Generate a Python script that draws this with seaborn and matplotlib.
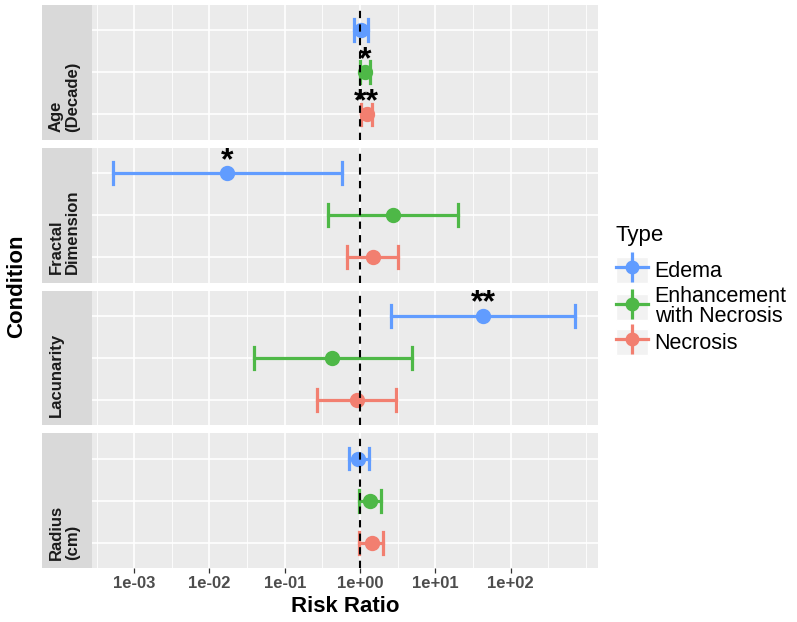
import numpy as np
import pandas as pd
import matplotlib
matplotlib.use("Agg")
import matplotlib.pyplot as plt
import seaborn as sns
from matplotlib.lines import Line2D
from matplotlib.patches import Patch, Rectangle
from matplotlib.ticker import FixedLocator, FuncFormatter, NullFormatter

plt.rcParams["font.family"] = ["Liberation Sans", "DejaVu Sans"]

# ---------------- data ----------------
conditions = ["Age (Decade)", "Fractal Dimension", "Lacunarity", "Radius (cm)"]
strip_labels = ["Age\n(Decade)", "Fractal\nDimension", "Lacunarity", "Radius\n(cm)"]
types = ["Edema", "Enhancement with Necrosis", "Necrosis"]
type_labels = ["Edema", "Enhancement\nwith Necrosis", "Necrosis"]
colors = ["#619CFF", "#4EB847", "#F27F70"]

# risk ratio estimates and 95% CI bounds, ordered as in `types`
age_est = [1.02, 1.18, 1.23]
age_lo = [0.84, 1.01, 1.04]
age_hi = [1.26, 1.37, 1.45]
age_sig = ["", "*", "**"]

fractal_est = [0.017, 2.7, 1.47]
fractal_lo = [5.2e-4, 0.37, 0.68]
fractal_hi = [0.58, 20.0, 3.16]
fractal_sig = ["*", "", ""]

lac_est = [43.0, 0.43, 0.90]
lac_lo = [2.6, 0.039, 0.27]
lac_hi = [720.0, 4.9, 3.0]
lac_sig = ["**", "", ""]

rad_est = [0.95, 1.36, 1.42]
rad_lo = [0.71, 0.97, 0.97]
rad_hi = [1.30, 1.91, 2.02]
rad_sig = ["", "", ""]

major_ticks = [1e-3, 1e-2, 1e-1, 1e0, 1e1, 1e2]

ests = [age_est, fractal_est, lac_est, rad_est]
los = [age_lo, fractal_lo, lac_lo, rad_lo]
his = [age_hi, fractal_hi, lac_hi, rad_hi]
sigs = [age_sig, fractal_sig, lac_sig, rad_sig]

rows = []
for cond, e, l, h in zip(conditions, ests, los, his):
    for t, ev, lv, hv in zip(types, e, l, h):
        for v in (lv, ev, hv):
            rows.append({"Condition": cond, "Type": t, "RR": v})
df = pd.DataFrame(rows)

# ---------------- layout ----------------
W, H = 797, 622
fig = plt.figure(figsize=(W / 100, H / 100), dpi=100)
top, bottom, gap = 5, 568, 8
ph = (bottom - top - 3 * gap) / 4
left, right = 92, 598
xmin, xmax = 10 ** -3.56, 10 ** 3.16
minor_ticks = [10 ** k for k in np.arange(-3.5, 3.01, 0.5) if abs(k - round(k)) > 1e-9] + [1e3]

for i, cond in enumerate(conditions):
    y0 = top + i * (ph + gap)
    ax = fig.add_axes([left / W, 1 - (y0 + ph) / H, (right - left) / W, ph / H])
    ax.set_facecolor("#EBEBEB")
    sub = df[df["Condition"] == cond]
    sns.pointplot(
        data=sub, x="RR", y="Type", hue="Type", order=types, hue_order=types,
        palette=colors, estimator="median", errorbar=("pi", 100), capsize=0.52,
        log_scale=True, linestyle="none", markers="o", markersize=9,
        err_kws={"linewidth": 2.3}, legend=False, ax=ax,
    )
    ax.axvline(1.0, color="black", lw=1.5, ls=(0, (3.5, 3)), zorder=10)
    for j, (ev, s) in enumerate(zip(ests[i], sigs[i])):
        if s:
            ax.text(ev, j - 0.1, s, ha="center", va="baseline", fontsize=23,
                    fontweight="bold", color="black", zorder=11)
    ax.set_xlim(xmin, xmax)
    ax.set_ylim(2.6, -0.6)
    ax.xaxis.set_major_locator(FixedLocator(major_ticks))
    ax.xaxis.set_minor_locator(FixedLocator(minor_ticks))
    ax.xaxis.set_minor_formatter(NullFormatter())
    ax.set_yticks([0, 1, 2])
    ax.set_axisbelow(True)
    ax.grid(True, which="major", axis="both", color="white", lw=1.2)
    ax.grid(True, which="minor", axis="x", color="white", lw=0.6)
    for sp in ax.spines.values():
        sp.set_visible(False)
    ax.set_xlabel("")
    ax.set_ylabel("")
    ax.tick_params(axis="y", length=0, labelleft=False)
    ax.tick_params(axis="x", which="minor", length=0)
    if i < 3:
        ax.tick_params(axis="x", which="major", length=0, labelbottom=False)
    else:
        ax.xaxis.set_major_formatter(FuncFormatter(lambda v, p: f"{v:.0e}"))
        ax.tick_params(axis="x", which="major", length=3.5, width=0.9,
                       color="#333333", labelcolor="#4D4D4D", labelsize=12, pad=2.0)
        for lab in ax.get_xticklabels():
            lab.set_fontweight("bold")
    # strip on the left
    fig.patches.append(Rectangle((42 / W, 1 - (y0 + ph) / H), (left - 42) / W, ph / H,
                                 transform=fig.transFigure, facecolor="#D9D9D9",
                                 edgecolor="none", zorder=0))
    fig.text(48.5 / W, 1 - (y0 + ph - 8) / H, strip_labels[i], rotation=90,
             rotation_mode="anchor", ha="left", va="top", multialignment="left",
             fontsize=12, fontweight="bold", color="#1A1A1A", linespacing=1.12)

fig.text(345 / W, 1 - 606 / H, "Risk Ratio", ha="center", va="center",
         fontsize=16, fontweight="bold")
fig.text(17 / W, 1 - 286 / H, "Condition", ha="center", va="center", rotation=90,
         fontsize=16, fontweight="bold")

handles = []
for c in colors:
    handles.append((
        Patch(facecolor="#F2F2F2", edgecolor="white"),
        Line2D([0], [0], color=c, lw=2.3, marker="o", markersize=9),
        Line2D([0], [0], color=c, lw=0, marker="|", markersize=22, markeredgewidth=2.3),
    ))
leg = fig.legend(handles, type_labels, loc="upper left",
                 bbox_to_anchor=(616 / W, 1 - 225 / H), frameon=False,
                 title="Type", title_fontsize=16, prop={"size": 15.5},
                 handlelength=1.5, handleheight=1.5, labelspacing=0.1,
                 handletextpad=0.3, borderpad=0, borderaxespad=0, alignment="left")
for t in leg.get_texts():
    t.set_linespacing(0.95)
leg._legend_box.sep = 8

fig.savefig("out.png", dpi=100)
